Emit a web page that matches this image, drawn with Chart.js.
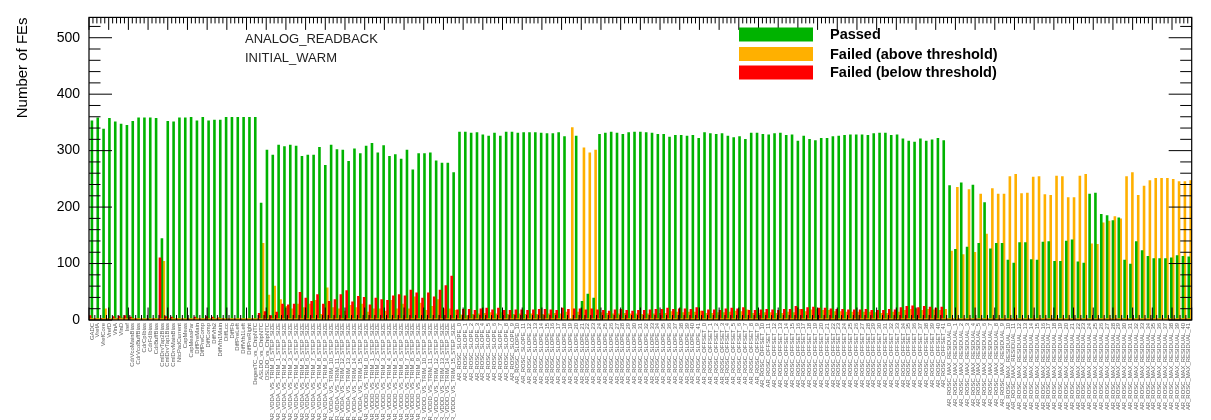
<!DOCTYPE html>
<html>
<head>
<meta charset="utf-8">
<title>ANALOG_READBACK - INITIAL_WARM</title>
<script src="https://cdn.jsdelivr.net/npm/chart.js@4.4.1/dist/chart.umd.min.js"></script>
<style>
  html, body { margin: 0; padding: 0; background: #ffffff; }
  #wrap { position: relative; width: 1211px; height: 420px; }
</style>
</head>
<body>
<div id="wrap"><canvas id="chart" width="1211" height="420"></canvas></div>
<script>
// ---- categories -------------------------------------------------------
const frontEndLabels = [
  "GADC", "VrefA", "VrefCore", "VrefD", "VinA", "VinD", "Iref",
  "CdrVcoMainBias", "CdrVcoBuffBias", "CdrCpIbias", "CdrFdIbias", "CdrBuffBias",
  "CmlDrvTap2Bias", "CmlDrvTap1Bias", "CmlDrvMainBias", "NtcPadCurrent",
  "CapMeas", "CapMeasPar", "DiffPreMain", "DiffPreComp", "DiffComp",
  "DiffVth2", "DiffVth1Main", "DiffLcc", "DiffFb", "DiffPreLeft",
  "DiffVth1Left", "DiffPreRight", "DegenTC_vs_ChipNTC",
  "ASLDO_vs_ChipNTC", "DSLDO_vs_ChipNTC"
];
const trimRails = ["VDDA", "VDDD"];
const trimSteps = ["0","1","2","3","4","5","6","7","8","9","10","11","12","13","14","15"];
const roscQuantities = ["SLOPE", "OFFSET", "MAX_RESIDUAL"];
const roscIndices = ["0","1","2","3","4","5","6","7","8","9","10","11","12","13","14","15",
  "16","17","18","19","20","21","22","23","24","25","26","27","28","29","30","31",
  "32","33","34","35","36","37","38","39","40","41"];

const trimLabels = [];
trimRails.forEach(r => trimSteps.forEach(s => trimLabels.push("AR_" + r + "_VS_TRIM_" + s + "_STEP_SIZE")));
const roscLabels = [];
roscQuantities.forEach(q => roscIndices.forEach(i => roscLabels.push("AR_ROSC_" + q + "_" + i)));
const categories = frontEndLabels.concat(trimLabels, roscLabels);

// ---- number of FEs per category ---------------------------------------
const passed = [
  353,358,338,357,351,347,345,352,358,358, 358,357,144,352,351,358,358,359,353,359,
  353,354,354,359,359,359,359,359,359,207, 301,
  292,310,307,310,308,290,292,292,306,274, 310,302,301,281,303,295,308,313,296,309,
  290,293,285,301,266,295,295,296,282,278, 278,261,
  333,333,331,332,328,326,331,326,333,333, 331,332,332,332,331,330,330,332,325,0,
  326,33,46,39,329,331,333,331,329,332, 333,333,332,331,329,329,324,327,327,326,
  327,322,
  332,330,329,330,326,323,325,320,331,331, 329,328,330,331,327,328,317,326,320,318,
  322,322,325,326,327,328,328,328,327,330, 331,331,327,328,321,317,315,321,317,319,
  322,318,
  238,125,243,129,239,136,208,126,136,136, 106,101,137,137,107,106,138,139,104,104,
  140,142,103,101,223,225,187,185,176,181, 106,99,139,123,113,109,109,109,110,114,
  113,112
];
const failedAbove = [
  2,1,20,1,3,4,5,3,1,1, 1,1,104,2,3,1,1,1,2,1,
  2,2,3,1,1,1,1,1,1,136, 44,
  60,36,24,20,28,22,28,35,10,57, 22,20,16,26,22,28,14,20,20,16,
  35,20,28,20,41,30,17,24,36,20, 20,17,
  9,8,10,11,12,13,11,13,10,10, 11,10,11,10,10,11,12,11,14,341,
  14,305,296,301,13,12,11,11,12,11, 11,10,11,11,12,12,15,14,13,14,
  14,16,
  12,12,13,13,14,16,15,18,12,12, 13,13,12,12,14,13,19,15,18,19,
  17,17,15,15,14,14,14,14,14,13, 12,12,14,14,17,19,20,17,19,18,
  17,19,
  122,235,116,231,120,223,152,233,223,223, 254,258,224,225,253,254,222,221,255,254,
  217,217,255,258,135,134,172,175,183,179, 254,261,221,237,247,251,251,251,249,245,
  245,247
];
const failedBelow = [
  8,2,3,2,6,7,8,5,2,1, 1,2,110,6,5,2,1,1,5,1,
  6,5,4,1,1,1,1,1,1,12, 15,
  8,14,28,27,28,49,39,33,45,28, 33,36,45,52,32,42,40,27,39,36,
  35,43,45,43,53,48,39,48,41,53, 61,78,
  18,19,19,17,20,21,18,21,17,17, 18,18,17,18,19,19,18,17,21,19,
  20,20,18,20,18,17,16,18,19,17, 16,17,17,18,19,19,21,19,20,20,
  19,22,
  16,18,18,17,20,21,20,22,17,17, 18,19,18,17,19,19,24,19,22,23,
  21,21,20,19,19,18,18,18,19,17, 17,17,19,18,22,24,25,22,24,23,
  21,23,
  0,0,0,0,0,0,0,0,0,0, 0,0,0,0,0,0,0,0,0,0,
  0,0,0,0,0,0,0,0,0,0, 0,0,0,0,0,0,0,0,0,0,
  0,0
];

const yTicks = [0, 100, 200, 300, 400, 500];

const COLOR_PASSED = "#00b300";
const COLOR_ABOVE = "#ffb000";
const COLOR_BELOW = "#ff0000";
const FONT = '"Liberation Sans", Arial, Helvetica, sans-serif';

// ---- frame, inward ticks and baseline ---------------------------------
const frameTicks = {
  id: "frameTicks",
  afterDatasetsDraw(chart) {
    const { ctx, chartArea: a, scales: { x, y } } = chart;
    const line = (x1, y1, x2, y2) => { ctx.beginPath(); ctx.moveTo(x1, y1); ctx.lineTo(x2, y2); ctx.stroke(); };
    ctx.save();
    // orange baseline along the x axis
    const y0 = y.getPixelForValue(0);
    ctx.strokeStyle = "#f0a000";
    ctx.lineWidth = 1.6;
    line(a.left, y0 - 1, a.right, y0 - 1);

    ctx.strokeStyle = "#000000";
    ctx.lineWidth = 1;
    const w = a.right - a.left;
    // short ticks at every bin edge on the bottom axis
    const nBins = categories.length;
    for (let i = 1; i < nBins; i++) {
      const px = a.left + (i * w) / nBins;
      line(px, a.bottom, px, a.bottom - 5);
    }
    // primary / secondary divisions on top and bottom
    const nDiv = 56, nSub = 5;
    for (let k = 0; k <= nDiv * nSub; k++) {
      const px = a.left + (k * w) / (nDiv * nSub);
      const major = k % nSub === 0;
      line(px, a.top, px, a.top + (major ? 12.5 : 6));
      if (major) line(px, a.bottom, px, a.bottom - 12.5);
    }
    // y ticks on both sides, pointing inward
    for (let v = 0; v <= y.max; v += 20) {
      const py = y.getPixelForValue(v);
      const len = v % 100 === 0 ? 23 : 11.5;
      line(a.left, py, a.left + len, py);
      line(a.right, py, a.right - len, py);
    }
    ctx.lineWidth = 1.2;
    ctx.strokeRect(a.left, a.top, w, a.bottom - a.top);
    ctx.restore();
  }
};

// ---- legend and run description ---------------------------------------
const annotations = {
  id: "annotations",
  afterDraw(chart) {
    const ctx = chart.ctx;
    const ds = chart.data.datasets;
    const byLabel = l => ds.find(d => d.label === l);
    const rows = [
      [byLabel("Passed"), 34.5],
      [byLabel("Failed (above threshold)"), 54],
      [byLabel("Failed (below threshold)"), 72.5]
    ];
    ctx.save();
    ctx.textBaseline = "middle";
    ctx.textAlign = "left";
    rows.forEach(([d, cy]) => {
      ctx.fillStyle = d.backgroundColor;
      ctx.fillRect(739, cy - 7, 74, 14);
      ctx.fillStyle = "#000000";
      ctx.font = "bold 14.5px " + FONT;
      ctx.fillText(d.label, 830, cy + 0.5);
    });
    ctx.fillStyle = "#222222";
    ctx.font = "13px " + FONT;
    ctx.fillText("ANALOG_READBACK", 245, 39.5);
    ctx.fillText("INITIAL_WARM", 245, 58.5);
    ctx.restore();
  }
};

new Chart(document.getElementById("chart"), {
  type: "bar",
  data: {
    labels: categories,
    datasets: [
      { label: "Failed (below threshold)", data: failedBelow, backgroundColor: COLOR_BELOW },
      { label: "Passed", data: passed, backgroundColor: COLOR_PASSED },
      { label: "Failed (above threshold)", data: failedAbove, backgroundColor: COLOR_ABOVE }
    ]
  },
  options: {
    responsive: false,
    animation: false,
    events: [],
    layout: { padding: { top: 11, right: 19.3, bottom: 0, left: 0 } },
    datasets: { bar: { categoryPercentage: 1.0, barPercentage: 1.0, borderWidth: 0 } },
    plugins: { legend: { display: false }, tooltip: { enabled: false }, title: { display: false } },
    scales: {
      x: {
        offset: true,
        grid: { display: false, drawTicks: false },
        border: { display: false },
        ticks: {
          autoSkip: false,
          maxRotation: 90,
          minRotation: 90,
          padding: 3,
          color: "#5a5a5a",
          font: { family: FONT, size: 5.9 }
        },
        afterFit(scale) { scale.height = 100; }
      },
      y: {
        min: 0,
        max: 536,
        grid: { display: false, drawTicks: false },
        border: { display: false },
        afterBuildTicks(scale) { scale.ticks = yTicks.map(v => ({ value: v })); },
        ticks: {
          padding: 9,
          color: "#000000",
          font: { family: FONT, size: 14 }
        },
        title: {
          display: true,
          text: "Number of FEs",
          align: "end",
          color: "#000000",
          font: { family: FONT, size: 15 },
          padding: { top: 14, bottom: 0 }
        },
        afterFit(scale) { scale.width = 89; }
      }
    }
  },
  plugins: [frameTicks, annotations]
});
</script>
</body>
</html>
